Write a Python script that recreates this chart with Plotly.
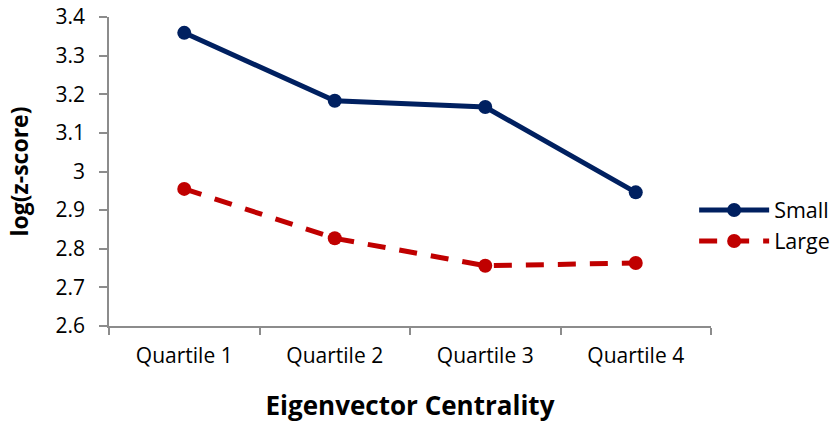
import plotly.graph_objects as go

categories = ["Quartile 1", "Quartile 2", "Quartile 3", "Quartile 4"]
small_values = [3.359, 3.183, 3.167, 2.946]
large_values = [2.955, 2.827, 2.756, 2.763]
y_ticks = [2.6, 2.7, 2.8, 2.9, 3.0, 3.1, 3.2, 3.3, 3.4]
y_tick_labels = ["2.6", "2.7", "2.8", "2.9", "3", "3.1", "3.2", "3.3", "3.4"]

FONT = "Open Sans"
NAVY = "#002060"
RED = "#C00000"
GRID = "#8C8C8C"

fig = go.Figure()
fig.add_trace(go.Scatter(
    x=categories, y=small_values, name="Small", mode="lines+markers",
    line=dict(color=NAVY, width=5),
    marker=dict(symbol="circle", size=14, color=NAVY),
))
fig.add_trace(go.Scatter(
    x=categories, y=large_values, name="Large", mode="lines+markers",
    line=dict(color=RED, width=5, dash="18px,14px"),
    marker=dict(symbol="circle", size=14, color=RED),
))

fig.update_layout(
    width=838, height=423,
    margin=dict(l=109, r=127, t=17, b=97, autoexpand=False),
    paper_bgcolor="white", plot_bgcolor="white",
    font=dict(family=FONT, color="#000000", size=21),
    showlegend=True,
    legend=dict(
        x=0.972, y=0.325, xanchor="left", yanchor="middle",
        font=dict(family=FONT, size=21.5, color="#000000"),
        itemwidth=70, tracegroupgap=0,
        bgcolor="rgba(0,0,0,0)",
    ),
)
fig.update_xaxes(
    type="category", range=[-0.5, 3.5],
    showline=True, linecolor=GRID, linewidth=1.5,
    ticks="outside", ticklen=7, tickcolor=GRID, tickwidth=1.5,
    tickson="boundaries", showgrid=False, zeroline=False,
    tickfont=dict(family=FONT, size=21, color="#000000"),
    ticklabelstandoff=10,
    title=dict(text="<b>Eigenvector Centrality</b>", font=dict(family=FONT, size=26, color="#000000"), standoff=30),
)
fig.update_yaxes(
    range=[2.6, 3.4], tickvals=y_ticks, ticktext=y_tick_labels,
    showline=True, linecolor=GRID, linewidth=1.5,
    ticks="outside", ticklen=8, tickcolor=GRID, tickwidth=1.5,
    showgrid=False, zeroline=False,
    tickfont=dict(family=FONT, size=21, color="#000000"),
    ticklabelstandoff=10,
    title=dict(text="<b>log(z-score)</b>", font=dict(family=FONT, size=23, color="#000000"), standoff=20),
)

fig.write_html("out.html", config={"displayModeBar": False},
               post_script="document.body.style.margin='0';")
